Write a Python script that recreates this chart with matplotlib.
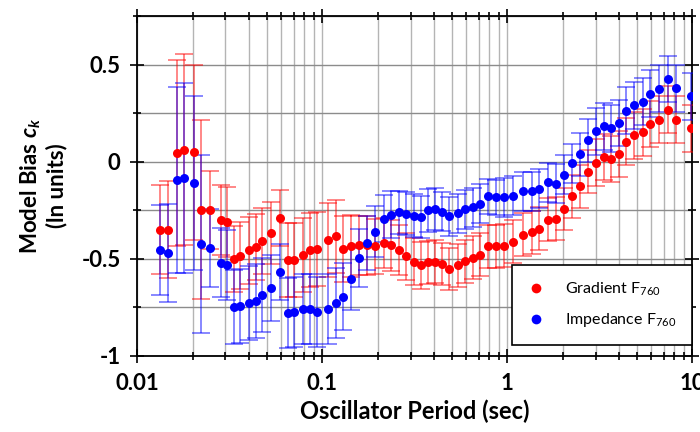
import matplotlib
matplotlib.use('Agg')
import matplotlib.pyplot as plt
from matplotlib.ticker import LogLocator, MultipleLocator, FixedLocator, FixedFormatter, NullFormatter
from matplotlib.lines import Line2D

# oscillator periods (sec)
period = [0.0132, 0.0147, 0.0164, 0.0180, 0.0202, 0.0220, 0.0248, 0.0285, 0.0306, 0.0335,
          0.0361, 0.0402, 0.0440, 0.0474, 0.0529, 0.0593, 0.0650, 0.0700, 0.0783, 0.0862,
          0.0937, 0.108, 0.119, 0.130, 0.143, 0.158, 0.175, 0.193, 0.216, 0.236,
          0.259, 0.285, 0.312, 0.341, 0.373, 0.409, 0.445, 0.485, 0.540, 0.592,
          0.654, 0.716, 0.784, 0.874, 0.957, 1.076, 1.209, 1.352, 1.488, 1.664,
          1.830, 2.021, 2.244, 2.467, 2.738, 3.026, 3.314, 3.628, 3.995, 4.374,
          4.833, 5.385, 5.898, 6.597, 7.352, 8.153, 9.79]

# Gradient F760 model bias and error
gradient = [-0.35, -0.35, 0.046, 0.062, 0.048, -0.247, -0.247, -0.30, -0.31, -0.50,
            -0.483, -0.457, -0.44, -0.41, -0.368, -0.29, -0.505, -0.505, -0.479, -0.454,
            -0.45, -0.405, -0.385, -0.45, -0.436, -0.431, -0.431, -0.436, -0.419, -0.431,
            -0.454, -0.488, -0.514, -0.534, -0.517, -0.514, -0.527, -0.552, -0.534, -0.512,
            -0.495, -0.478, -0.436, -0.436, -0.433, -0.412, -0.376, -0.364, -0.345, -0.299,
            -0.294, -0.244, -0.179, -0.127, -0.052, -0.005, 0.024, 0.014, 0.04, 0.103,
            0.136, 0.151, 0.194, 0.216, 0.268, 0.216, 0.172]
gradient_err = [0.23, 0.25, 0.48, 0.49, 0.45, 0.46, 0.20, 0.18, 0.18, 0.17,
                0.17, 0.17, 0.17, 0.17, 0.16, 0.145, 0.19, 0.19, 0.19, 0.19,
                0.19, 0.19, 0.19, 0.17, 0.16, 0.15, 0.15, 0.14, 0.13, 0.13,
                0.13, 0.12, 0.12, 0.12, 0.11, 0.11, 0.11, 0.11, 0.11, 0.11,
                0.11, 0.11, 0.11, 0.11, 0.11, 0.11, 0.11, 0.11, 0.11, 0.11,
                0.11, 0.11, 0.11, 0.11, 0.11, 0.12, 0.12, 0.12, 0.12, 0.12,
                0.12, 0.12, 0.12, 0.12, 0.12, 0.12, 0.12]

# Impedance F760 model bias and error
impedance = [-0.454, -0.47, -0.093, -0.083, -0.11, -0.423, -0.443, -0.519, -0.53, -0.75,
             -0.742, -0.727, -0.715, -0.686, -0.648, -0.569, -0.78, -0.772, -0.756, -0.756,
             -0.773, -0.76, -0.728, -0.694, -0.605, -0.497, -0.419, -0.36, -0.294, -0.273,
             -0.26, -0.268, -0.278, -0.285, -0.251, -0.244, -0.258, -0.282, -0.265, -0.244,
             -0.234, -0.216, -0.179, -0.182, -0.184, -0.175, -0.153, -0.153, -0.138, -0.107,
             -0.113, -0.067, -0.009, 0.038, 0.11, 0.156, 0.182, 0.172, 0.2, 0.263,
             0.29, 0.309, 0.35, 0.376, 0.426, 0.378, 0.337]
impedance_err = [0.23, 0.25, 0.48, 0.49, 0.45, 0.46, 0.20, 0.18, 0.18, 0.19,
                 0.19, 0.19, 0.19, 0.19, 0.17, 0.145, 0.18, 0.18, 0.18, 0.18,
                 0.18, 0.18, 0.18, 0.17, 0.16, 0.15, 0.14, 0.13, 0.12, 0.12,
                 0.11, 0.11, 0.11, 0.11, 0.11, 0.11, 0.10, 0.10, 0.10, 0.10,
                 0.10, 0.10, 0.09, 0.09, 0.10, 0.10, 0.10, 0.10, 0.10, 0.10,
                 0.10, 0.10, 0.10, 0.11, 0.11, 0.12, 0.12, 0.12, 0.12, 0.12,
                 0.12, 0.12, 0.12, 0.12, 0.12, 0.12, 0.12]

plt.rcParams['font.family'] = ['Lato', 'DejaVu Sans']
plt.rcParams['mathtext.fontset'] = 'custom'
plt.rcParams['mathtext.rm'] = 'Lato'
plt.rcParams['mathtext.it'] = 'Lato:italic'
plt.rcParams['mathtext.bf'] = 'Lato:bold'
plt.rcParams['mathtext.bfit'] = 'Lato:bold:italic'

fig = plt.figure(figsize=(7, 4.32), dpi=100)
ax = fig.add_axes([0.196, 0.176, 0.793, 0.787])

ax.errorbar(period, gradient, yerr=gradient_err, fmt='none', ecolor='red', alpha=0.55,
            elinewidth=1.2, capsize=6.5, capthick=1.2, zorder=3)
ax.errorbar(period, impedance, yerr=impedance_err, fmt='none', ecolor='blue', alpha=0.55,
            elinewidth=1.2, capsize=6.5, capthick=1.2, zorder=3)
ax.plot(period, gradient, 'o', color='red', ms=6.5, mec='none', zorder=4)
ax.plot(period, impedance, 'o', color='blue', ms=6.5, mec='none', zorder=4)

ax.set_xscale('log')
ax.set_xlim(0.01, 10)
ax.set_ylim(-1, 0.75)
ax.xaxis.set_major_locator(FixedLocator([0.01, 0.1, 1, 10]))
ax.xaxis.set_major_formatter(FixedFormatter(['0.01', '0.1', '1', '10']))
ax.xaxis.set_minor_locator(LogLocator(base=10, subs=range(2, 10)))
ax.xaxis.set_minor_formatter(NullFormatter())
ax.yaxis.set_major_locator(FixedLocator([-1, -0.5, 0, 0.5]))
ax.yaxis.set_major_formatter(FixedFormatter(['-1', '-0.5', '0', '0.5']))
ax.yaxis.set_minor_locator(MultipleLocator(0.25))

# vertical grid lighter, horizontal grid a bit darker
ax.xaxis.grid(True, which='both', color='#b4b4b4', linewidth=1.0)
ax.yaxis.grid(True, which='both', color='#8c8c8c', linewidth=1.0)
ax.set_axisbelow(True)

ax.tick_params(which='both', direction='inout', top=True, right=True, width=1.2,
               labelsize=16, pad=7)
ax.tick_params(which='major', length=10)
ax.tick_params(which='minor', length=6)
for lab in ax.get_xticklabels() + ax.get_yticklabels():
    lab.set_fontweight('bold')
for sp in ax.spines.values():
    sp.set_linewidth(1.3)

ax.set_xlabel('Oscillator Period (sec)', fontsize=17, fontweight='bold', labelpad=4)
ax.set_ylabel('Model Bias $\\mathbfit{c}_{\\mathbfit{k}}$\n(ln units)', fontsize=16,
              fontweight='bold', labelpad=10, linespacing=1.15)

handles = [Line2D([], [], ls='none', marker='o', color='red', ms=7, mec='none'),
           Line2D([], [], ls='none', marker='o', color='blue', ms=7, mec='none')]
leg = ax.legend(handles, ['Gradient F$_{760}$', 'Impedance F$_{760}$'],
                loc='lower right', bbox_to_anchor=(1.0, 0.032), borderaxespad=0,
                fancybox=False, edgecolor='black', fontsize=11.5, handletextpad=1.3,
                borderpad=1.0, labelspacing=0.8, handlelength=1.0, framealpha=1)
leg.get_frame().set_linewidth(1.2)

plt.savefig('out.png', dpi=100)
